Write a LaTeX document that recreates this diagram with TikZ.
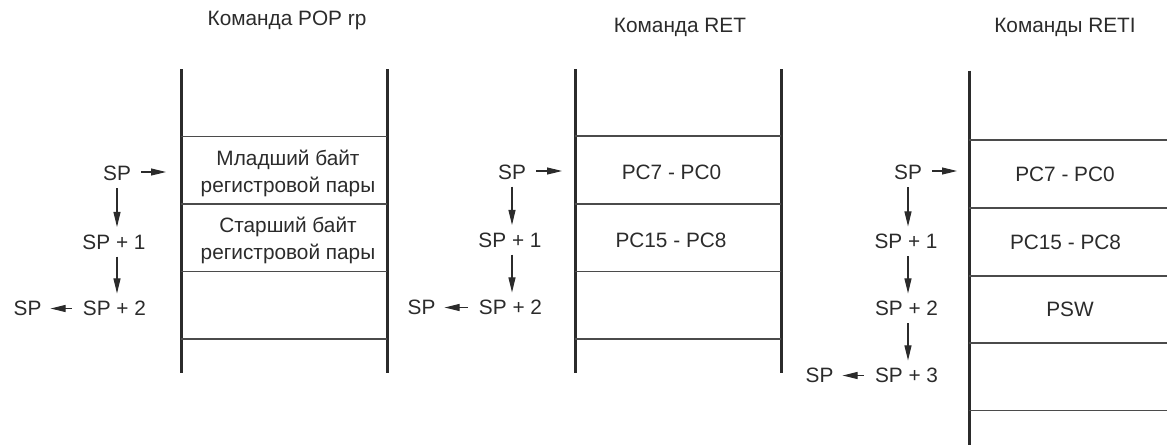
\documentclass[tikz,border=0pt]{standalone}
\usepackage{fontspec}
\setmainfont{Liberation Sans}
\usetikzlibrary{arrows.meta}
\definecolor{ink}{HTML}{2B2B2B}
\begin{document}
\begin{tikzpicture}[x=1pt,y=-1pt,
  wall/.style={line width=3pt, draw=ink},
  row/.style={line width=1.4pt, draw=ink!85},
  txt/.style={font=\fontsize{20.8}{24}\selectfont, text=ink, inner sep=0pt},
  ptr/.style={line width=1.1pt, draw=ink, -{Triangle[length=15pt,width=7pt]}},
  down/.style={ptr, shorten <=7pt, shorten >=7.5pt}]
\useasboundingbox (0,0) rectangle (1167,445);

% ---------- titles ----------
\node[txt] (t1) at (287,20) {Команда POP rp};
\node[txt] (t2) at (680,27) {Команда RET};
\node[txt] (t3) at (1065,27) {Команды RETI};

% ---------- stack 1: POP rp ----------
\draw[wall] (181,69) -- (181,373);
\draw[wall] (387,69) -- (387,373);
\foreach \yy in {136.5,204,271.5,339}
  \draw[row] (181,\yy) -- (387,\yy);
\node[txt, anchor=base] (c11) at (288,165) {Младший байт};
\node[txt, anchor=base] (c12) at (288,192) {регистровой пары};
\node[txt, anchor=base] (c21) at (288,232) {Старший байт};
\node[txt, anchor=base] (c22) at (288,259) {регистровой пары};

\node[txt] (a0) at (117,173.5) {SP};
\node[txt] (a1) at (114,242) {SP + 1};
\node[txt] (a2) at (114.5,308.5) {SP + 2};
\node[txt] (a3) at (27.5,308.5) {SP};
\coordinate (ap) at (166,172);
\draw[ptr, shorten <=10pt] (a0.east |- ap) -- (ap);
\draw[down] (a0.south) -- (a0.south |- a1.north);
\draw[down] (a0.south |- a1.south) -- (a0.south |- a2.north);
\draw[ptr, shorten <=11pt, shorten >=9pt] (a2.west) -- (a3.east);

% ---------- stack 2: RET ----------
\draw[wall] (575,69) -- (575,373);
\draw[wall] (781,69) -- (781,373);
\foreach \yy in {136,204,271.5,339}
  \draw[row] (575,\yy) -- (781,\yy);
\node[txt] (r1) at (671.5,172.5) {PC7 - PC0};
\node[txt] (r2) at (671,240) {PC15 - PC8};

\node[txt] (b0) at (512,172) {SP};
\node[txt] (b1) at (510,240) {SP + 1};
\node[txt] (b2) at (510.5,307.5) {SP + 2};
\node[txt] (b3) at (421.5,307.5) {SP};
\coordinate (bp) at (562,171);
\draw[ptr, shorten <=10pt] (b0.east |- bp) -- (bp);
\draw[down] (b0.south) -- (b0.south |- b1.north);
\draw[down] (b0.south |- b1.south) -- (b0.south |- b2.north);
\draw[ptr, shorten <=11pt, shorten >=9pt] (b2.west) -- (b3.east);

% ---------- stack 3: RETI ----------
\draw[wall] (969,70.5) -- (969,445);
\foreach \yy in {140,208,276,343,410.5}
  \draw[row] (969,\yy) -- (1167,\yy);
\node[txt] (s1) at (1065,174.5) {PC7 - PC0};
\node[txt] (s2) at (1065.5,242.5) {PC15 - PC8};
\node[txt] (s3) at (1070,309.5) {PSW};

\node[txt] (d0) at (908,172.5) {SP};
\node[txt] (d1) at (906,241.5) {SP + 1};
\node[txt] (d2) at (906.5,308.5) {SP + 2};
\node[txt] (d3) at (906.5,375.5) {SP + 3};
\node[txt] (d4) at (819.5,375.5) {SP};
\coordinate (dp) at (957,171);
\draw[ptr, shorten <=10pt] (d0.east |- dp) -- (dp);
\draw[down] (d0.south) -- (d0.south |- d1.north);
\draw[down] (d0.south |- d1.south) -- (d0.south |- d2.north);
\draw[down] (d0.south |- d2.south) -- (d0.south |- d3.north);
\draw[ptr, shorten <=11pt, shorten >=9pt] (d3.west) -- (d4.east);
\end{tikzpicture}
\end{document}
